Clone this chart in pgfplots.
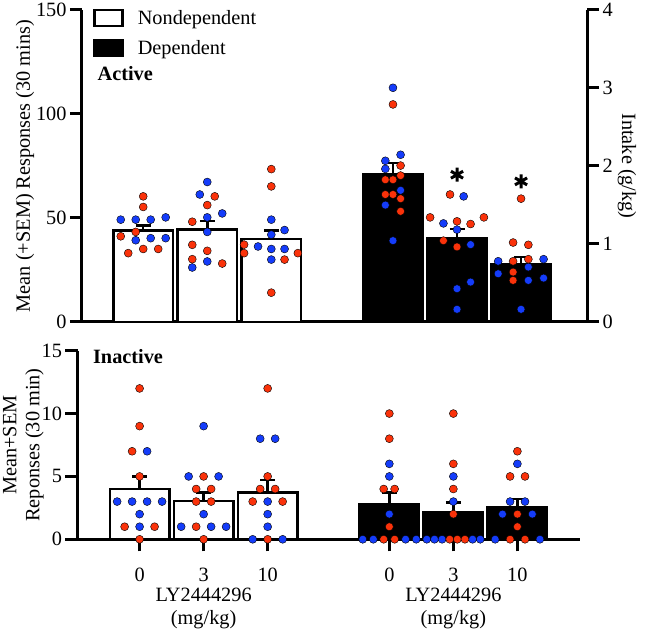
\documentclass[border=0pt]{standalone}
\usepackage{fontspec}
\setmainfont{Liberation Serif}
\usepackage{pgfplots}
\pgfplotsset{compat=1.18}

\definecolor{ptred}{RGB}{250,50,10}
\definecolor{ptblue}{RGB}{20,60,250}
\newcommand\fnt{\fontsize{20.3}{23}\selectfont}

\pgfplotsset{
  panel/.style={
    scale only axis, clip=false,
    axis x line*=bottom, axis y line*=left,
    axis line style={line width=3pt, -},
    tick style={line width=3pt, black},
    major tick length=12pt, tick align=outside,
    tick label style={font=\fnt},
    label style={font=\fnt},
    /pgf/number format/assume math mode=true,
  },
  pts/.style={only marks, mark=*, mark size=4pt, mark options={draw=none, fill=#1}, forget plot},
  bar/.style={ybar, bar width=0.93, bar shift=0pt, draw=black, line width=2.5pt, fill=#1,
    error bars/.cd, y dir=plus, y explicit,
    error bar style={line width=2.5pt, draw=black},
    error mark options={line width=2.5pt, draw=black, mark size=7.5pt, rotate=90},
    /pgfplots/.cd,
    legend image code/.code={\draw[line width=2.5pt, draw=black, fill=#1] (0pt,-8pt) rectangle (28pt,8pt);}},
}

\begin{document}
\begin{tikzpicture}[font=\fnt]
\useasboundingbox (0,0) rectangle (646pt,631pt);

% ---- top panel: active lever ----
\begin{axis}[panel, name=top,
  at={(82pt,309pt)}, anchor=south west, width=505pt, height=312pt,
  xmin=-0.956, xmax=6.93, ymin=0, ymax=150,
  ytick={0,50,100,150}, xtick=\empty,
  ylabel={Mean (+SEM) Responses (30 mins)},
  ylabel style={at={(axis description cs:-0.113,0.5)}, anchor=center},
  legend style={at={(axis description cs:0.022,1.006)}, anchor=north west,
    draw=none, fill=none, inner sep=0pt, font=\fnt, row sep=10.5pt, column sep=12pt},
  legend cell align=left,
]
\addplot[bar=white] coordinates {(0,44.1) +- (0,2.4) (1,44.4) +- (0,4.2) (2,39.8) +- (0,4.3)};
\addlegendentry{Nondependent}
\addplot[bar=black] coordinates {(3.9,71.1) +- (0,5.3) (4.9,40.1) +- (0,4.5) (5.9,28.0) +- (0,3.3)};
\addlegendentry{Dependent}

\addplot[pts=ptblue] coordinates {
 (-0.351,49.2) (-0.117,49.2) (0.117,49.2) (0.351,50.3) (-0.117,39.3) (0.117,40.3) (0.351,40.3)
 (1,67.3) (0.883,61.3) (1,50.3) (1.234,52.2) (1,43.3) (1,29.1) (0.766,26.2)
 (2,49.2) (2.207,44.2) (2,42.0) (1.793,36.3) (2,35.1) (2.207,35.1) (2,30.0)
 (3.9,112.6) (4.019,80.4) (3.781,77.5) (3.781,73.6) (4.019,63.3) (3.781,56.2) (3.9,39.1)
 (5.004,60.4) (4.688,47.4) (4.9,44.4) (5.112,37.2) (5.112,19.2) (4.9,16.0) (4.9,6.1)
 (5.543,29.2) (6.252,30.2) (6.014,26.4) (5.543,23.2) (6.252,21.1) (6.014,20.0) (5.9,6.1)
};
\addplot[pts=ptred] coordinates {
 (0,60.4) (0,55.3) (-0.117,43.3) (-0.351,41.2) (0,35.1) (0.234,35.1) (-0.234,33.1)
 (1.117,60.4) (1,56.2) (0.766,48.2) (0.766,37.1) (1,34.2) (0.766,30.2) (1.234,28.1)
 (2,73.5) (2,65.2) (1.575,37.2) (1.575,33.1) (2.207,30.0) (2.415,33.1) (2,14.1)
 (3.9,104.6) (4.019,75.2) (4.019,70.4) (3.781,68.4) (3.9,68.4) (3.781,61.3) (3.9,61.3) (4.019,59.3) (4.019,53.2)
 (4.791,61.3) (4.48,50.3) (5.32,50.3) (4.9,48.4) (5.112,47.1) (4.688,39.1) (4.9,36.1)
 (5.9,59.3) (5.776,38.2) (6.014,37.1) (6.014,30.2) (5.776,29.2) (5.776,24.0) (5.776,20.0)
};
% significance markers
\addplot[only marks, mark=asterisk, mark size=7pt, line width=3pt, forget plot]
  coordinates {(4.9,70.8) (5.9,67.6)};

\node[anchor=west, font=\fnt\bfseries] at (axis description cs:0.024,0.795) {Active};
\end{axis}

% ---- right axis: intake ----
\begin{axis}[scale only axis, clip=false,
  at={(82pt,309pt)}, anchor=south west, width=505pt, height=312pt,
  xmin=-0.956, xmax=6.93, ymin=0, ymax=4,
  axis y line*=right, axis x line=none,
  axis line style={line width=3pt, -},
  tick style={line width=3pt, black},
  major tick length=12pt, tick align=outside,
  ytick={0,1,2,3,4},
  tick label style={font=\fnt},
  /pgf/number format/assume math mode=true,
]
\node[rotate=-90, font=\fnt] at (axis description cs:1.079,0.5) {Intake (g/kg)};
\end{axis}

% ---- bottom panel: inactive lever ----
\begin{axis}[panel, name=bot,
  at={(77.5pt,91.7pt)}, anchor=south west, width=502pt, height=188.6pt,
  xmin=-0.97, xmax=6.87, ymin=0, ymax=15,
  ytick={0,5,10,15},
  xtick={0,1,2,3.9,4.9,5.9}, xticklabels={0,3,10,0,3,10},
  xticklabel style={yshift=-13pt},
  ylabel={Mean+SEM\\Reponses (30 min)},
  ylabel style={at={(axis description cs:-0.108,0.5)}, anchor=center, align=center},
]
\addplot[bar=white] coordinates {(0,4.0) +- (0,1.0) (1,3.05) +- (0,0.69) (2,3.71) +- (0,1.0)};
\addplot[bar=black] coordinates {(3.9,2.81) +- (0,0.9) (4.9,2.12) +- (0,0.82) (5.9,2.52) +- (0,0.69)};

\addplot[pts=ptblue] coordinates {
 (0.117,7) (-0.351,3) (-0.117,3) (0.117,3) (0.351,3) (0,2) (0,1)
 (1,9) (0.766,5) (1.234,5) (1,2) (0.649,1) (1.117,1) (1.351,1)
 (1.883,8) (2.117,8) (2,3) (2,2) (2,1) (1.766,0) (2.234,0)
 (3.9,6) (3.9,5) (3.9,2) (3.485,0) (3.65,0) (4.154,0) (4.32,0)
 (4.9,5) (4.9,3) (4.485,0) (4.605,0) (4.724,0) (5.2,0) (5.32,0)
 (5.9,6) (5.786,3) (6.019,3) (5.667,2) (6.133,2) (5.553,0) (6.252,0)
};
\addplot[pts=ptred] coordinates {
 (0,12) (0,9) (-0.117,7) (0,5) (-0.234,1) (0.234,1) (0,0)
 (1,5) (0.883,4) (1.117,4) (0.883,3) (1.117,3) (0.883,1) (1,0)
 (2,12) (2,5) (1.883,4) (2.117,4) (1.766,3) (2.234,3) (2,0)
 (3.9,10) (3.9,8) (3.812,4) (3.983,4) (3.9,1) (3.812,0) (3.983,0)
 (4.9,10) (4.9,6) (4.9,4) (4.9,2) (4.843,0) (4.962,0) (5.081,0)
 (5.9,7) (5.786,5) (6.019,5) (5.9,2) (5.9,1) (5.786,0) (6.019,0)
};

\node[anchor=west, font=\fnt\bfseries] at (axis description cs:0.024,0.967) {Inactive};
\node[align=center, font=\fnt] at ([yshift=-69pt]axis cs:1,0) {LY2444296\\(mg/kg)};
\node[align=center, font=\fnt] at ([yshift=-69pt]axis cs:4.9,0) {LY2444296\\(mg/kg)};
\end{axis}
\end{tikzpicture}
\end{document}
